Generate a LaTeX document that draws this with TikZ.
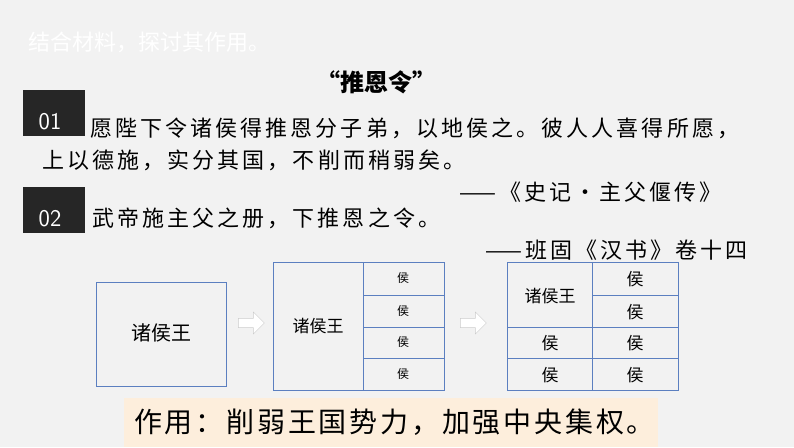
\documentclass[tikz,border=0pt]{standalone}
\usepackage{fontspec}
\newfontfamily\cjk{Noto Sans CJK SC}
\newfontfamily\cjksp{Noto Sans CJK SC}[LetterSpace=14]
\newfontfamily\cjkbt{Noto Sans CJK SC}[LetterSpace=10]
\usetikzlibrary{shapes.arrows}
\definecolor{bg}{HTML}{F2F2F2}
\definecolor{bx}{HTML}{5B7FC0}
\definecolor{peach}{HTML}{FDEEDC}
\begin{document}
\begin{tikzpicture}[x=1pt,y=-1pt,
  txt/.style={anchor=west,inner sep=0pt,font=\cjksp\fontsize{22}{22}\selectfont},
  cell/.style={draw=bx,line width=0.9pt},
  small/.style={font=\cjk\fontsize{12}{12}\selectfont,inner sep=0pt},
  mid/.style={font=\cjk\fontsize{17}{17}\selectfont,inner sep=0pt},
  badge/.style={fill=black!85,minimum width=62pt,minimum height=46pt,inner sep=0pt},
  harrow/.style={single arrow,draw=black!20,fill=white,minimum height=26pt,minimum width=22pt,single arrow head extend=3pt,inner sep=2pt}]
\fill[bg] (0,0) rectangle (794,447);
\useasboundingbox (0,0) rectangle (794,447);
\node[anchor=west,inner sep=0pt,text=white,font=\cjk\fontsize{22}{22}\selectfont] (title) at (28,42) {结合材料，探讨其作用。};
\node[inner sep=0pt,font=\cjk\bfseries\fontsize{24}{24}\selectfont] (head) at (376,82) {“推恩令”};
\node[badge] (b1) at (54,113) {};
\node[text=white,font=\sffamily\fontsize{24}{24}\selectfont] (n1) at (50,122) {01};
\node[badge] (b2) at (54,210) {};
\node[text=white,font=\sffamily\fontsize{24}{24}\selectfont] (n2) at (50,219) {02};
\node[txt] (l1) at (90,128) {愿陛下令诸侯得推恩分子弟，以地侯之。彼人人喜得所愿，};
\node[txt] (l2) at (42,160) {上以德施，实分其国，不削而稍弱矣。};
\node[txt,anchor=east] (s1) at (722,192) {——《史记·主父偃传》};
\node[txt] (l3) at (92,218) {武帝施主父之册，下推恩之令。};
\node[txt,anchor=east] (s2) at (748,250) {——班固《汉书》卷十四};
% box1
\draw[cell] (96,282) rectangle (226,386);
\node[mid,font=\cjk\fontsize{20}{20}\selectfont] (w1) at (161,333) {诸侯王};
\node[harrow] (a1) at (249,323) {};
% box2
\draw[cell] (273,262) rectangle (444,390);
\draw[cell] (363,262) -- (363,390);
\foreach \y in {295,327,358} \draw[cell] (363,\y) -- (444,\y);
\node[mid] (w2) at (318,326) {诸侯王};
\foreach \y/\n in {278/a,311/b,342/c,374/d} \node[small] (h\n) at (403,\y) {侯};
\node[harrow] (a2) at (471,323) {};
% box3
\draw[cell] (507,262) rectangle (678,390);
\draw[cell] (592,262) -- (592,390);
\draw[cell] (592,295) -- (678,295);
\foreach \y in {327,358} \draw[cell] (507,\y) -- (678,\y);
\node[mid] (w3) at (550,296) {诸侯王};
\foreach \x/\y/\n in {635/279/p,635/312/q,550/343/r,635/343/s,550/375/t,635/375/u} \node[mid] (k\n) at (\x,\y) {侯};
% bottom
\fill[peach] (124,398) rectangle (658,447);
\node[anchor=west,inner sep=0pt,font=\cjkbt\fontsize{28}{28}\selectfont] (res) at (134,422) {作用：削弱王国势力，加强中央集权。};
\end{tikzpicture}
\end{document}
